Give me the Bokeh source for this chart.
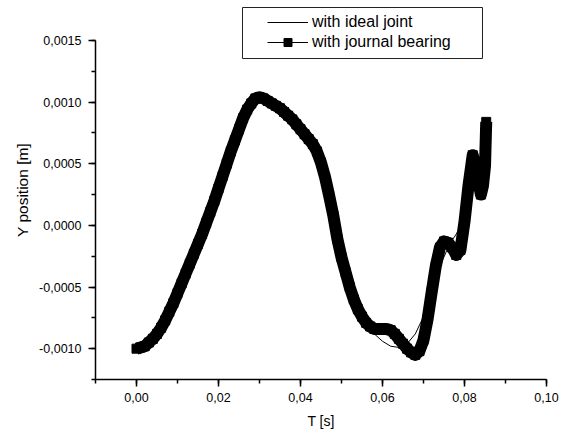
import math
from bokeh.plotting import figure
from bokeh.models import (Range1d, SingleIntervalTicker, CustomJSTickFormatter, Legend,
                          LegendItem, BoxAnnotation)
from bokeh.embed import file_html
from bokeh.resources import INLINE

# ---- data ----
t_bearing = [0.000, 0.001, 0.002, 0.003, 0.004, 0.005, 0.006, 0.007, 0.008, 0.009,
             0.010, 0.011, 0.012, 0.013, 0.014, 0.015, 0.016, 0.017, 0.018, 0.019,
             0.020, 0.021, 0.022, 0.023, 0.024, 0.025, 0.026, 0.027, 0.028, 0.029,
             0.030, 0.031, 0.032, 0.033, 0.034, 0.035, 0.036, 0.037, 0.038, 0.039,
             0.040, 0.041, 0.042, 0.043, 0.044, 0.045, 0.046, 0.047, 0.048, 0.049,
             0.050, 0.051, 0.052, 0.053, 0.054, 0.055, 0.056, 0.057, 0.058, 0.059,
             0.060, 0.061, 0.062, 0.063, 0.064, 0.065, 0.066, 0.067, 0.068, 0.069,
             0.070, 0.071, 0.072, 0.073, 0.074, 0.075, 0.076, 0.077, 0.078, 0.079,
             0.080, 0.081, 0.082, 0.083, 0.084, 0.0845, 0.0850, 0.0851, 0.0852, 0.0853]
y_bearing = [-0.00100, -0.00099, -0.00098, -0.00095, -0.00092, -0.00088, -0.00083, -0.00077, -0.00070, -0.00063,
             -0.00055, -0.00047, -0.00039, -0.00031, -0.00023, -0.00015, -0.00007, 0.00002, 0.00011, 0.00020,
             0.00030, 0.00040, 0.00050, 0.00060, 0.00069, 0.00078, 0.00087, 0.00094, 0.00099, 0.00103,
             0.00104, 0.00103, 0.00101, 0.00099, 0.00097, 0.00095, 0.00092, 0.00089, 0.00086, 0.00082,
             0.00078, 0.00074, 0.00070, 0.00066, 0.00060, 0.00051, 0.00039, 0.00024, 0.00008, -0.00011,
             -0.00026, -0.00038, -0.00050, -0.00060, -0.00068, -0.00074, -0.00079, -0.00082, -0.00084, -0.00084,
             -0.00084, -0.00084, -0.00085, -0.00088, -0.00092, -0.00096, -0.00100, -0.00103, -0.00105, -0.00102,
             -0.00093, -0.00076, -0.00054, -0.00033, -0.00018, -0.00013, -0.00014, -0.00018, -0.00024, -0.00020,
             0.00003, 0.00033, 0.00057, 0.00042, 0.00025, 0.00032, 0.00048, 0.00060, 0.00072, 0.00084]

t_ideal = [0.000, 0.002, 0.004, 0.006, 0.008, 0.010, 0.012, 0.014, 0.016, 0.018,
           0.020, 0.022, 0.024, 0.026, 0.027, 0.028, 0.029, 0.030, 0.031, 0.032,
           0.034, 0.036, 0.038, 0.040, 0.042, 0.044, 0.045, 0.046, 0.047, 0.048,
           0.050, 0.052, 0.054, 0.056, 0.058, 0.060, 0.062, 0.064, 0.066, 0.068,
           0.070, 0.072, 0.074, 0.076, 0.077, 0.078, 0.079, 0.080, 0.081, 0.082,
           0.083, 0.084, 0.085]
y_ideal = [-0.00100, -0.00098, -0.00092, -0.00083, -0.00070, -0.00055, -0.00039, -0.00023, -0.00007, 0.00011,
           0.00030, 0.00050, 0.00069, 0.00086, 0.00092, 0.00097, 0.00100, 0.00101, 0.00100, 0.00098,
           0.00094, 0.00089, 0.00083, 0.00075, 0.00066, 0.00054, 0.00045, 0.00032, 0.00017, 0.00001,
           -0.00031, -0.00055, -0.00070, -0.00080, -0.00088, -0.00094, -0.00098, -0.00099, -0.00096, -0.00088,
           -0.00074, -0.00054, -0.00033, -0.00018, -0.00012, -0.00007, -0.00001, 0.00008, 0.00020, 0.00034,
           0.00045, 0.00040, 0.00048]

legend_labels = ["with ideal joint", "with journal bearing"]
x_title = "T [s]"
y_title = "Y position [m]"

FONT = "Liberation Sans"

p = figure(width=566, height=432, output_backend="svg", toolbar_location=None,
           x_range=Range1d(-0.01, 0.10), y_range=Range1d(-0.00125, 0.0018247),
           min_border_left=95, min_border_right=20, min_border_top=0, min_border_bottom=53)
p.xgrid.visible = False
p.ygrid.visible = False
p.outline_line_color = None
p.background_fill_color = "white"
p.border_fill_color = "white"

for ax in (p.xaxis[0], p.yaxis[0]):
    ax.axis_line_width = 1.5
    ax.axis_line_color = "black"
    ax.major_tick_line_width = 1.5
    ax.minor_tick_line_width = 1.5
    ax.major_tick_line_color = "black"
    ax.minor_tick_line_color = "black"
    ax.major_tick_out = 7
    ax.major_tick_in = 0
    ax.minor_tick_out = 4
    ax.minor_tick_in = 0
    ax.major_label_text_font = FONT
    ax.major_label_text_font_size = "12.5px"
    ax.major_label_text_color = "black"
    ax.axis_label_text_font = FONT
    ax.axis_label_text_font_style = "normal"
    ax.axis_label_text_color = "black"

p.xaxis[0].major_label_standoff = 6
p.yaxis[0].major_label_standoff = 7

p.xaxis[0].axis_label = x_title
p.xaxis[0].axis_label_text_font_size = "14px"
p.xaxis[0].axis_label_standoff = 8
p.yaxis[0].axis_label = y_title
p.yaxis[0].axis_label_text_font_size = "15.5px"
p.yaxis[0].axis_label_standoff = 5

p.xaxis[0].ticker = SingleIntervalTicker(interval=0.02, num_minor_ticks=2)
p.yaxis[0].ticker = SingleIntervalTicker(interval=0.0005, num_minor_ticks=2)
p.yaxis[0].bounds = (-0.00125, 0.0015)
p.xaxis[0].formatter = CustomJSTickFormatter(
    code="if (Math.abs(tick) < 1e-12) return '0,00'; return tick.toFixed(2).replace('.', ',');")
p.yaxis[0].formatter = CustomJSTickFormatter(
    code="if (Math.abs(tick) < 1e-12) return '0,0000'; return tick.toFixed(4).replace('.', ',');")

# data
r_ideal = p.line(t_ideal, y_ideal, line_color="black", line_width=1)
p.line(t_bearing, y_bearing, line_color="black", line_width=12, line_join="round")
p.scatter(t_bearing, y_bearing, marker="square", size=9, fill_color="black", line_color="black")

# legend proxies (no visible data)
nan = float("nan")
pl = p.line([nan], [nan], line_color="black", line_width=1)
ps = p.scatter([nan], [nan], marker="square", size=8, fill_color="black", line_color="black")

box = BoxAnnotation(left=0.025854, right=0.084390, top=0.0017679, bottom=0.001354,
                    fill_color="white", fill_alpha=1.0, line_color="#222222", line_alpha=1.0,
                    line_width=1)
p.add_layout(box)

legend = Legend(items=[LegendItem(label=legend_labels[0], renderers=[r_ideal]),
                       LegendItem(label=legend_labels[1], renderers=[pl, ps])],
                location=(167, 322), padding=5, spacing=0, margin=0,
                glyph_width=41, glyph_height=20, label_height=20, label_standoff=4,
                label_text_font=FONT, label_text_font_size="16px", label_text_color="black",
                border_line_alpha=0, background_fill_alpha=0)
p.add_layout(legend)

open("out.html", "w").write(file_html(p, INLINE))
